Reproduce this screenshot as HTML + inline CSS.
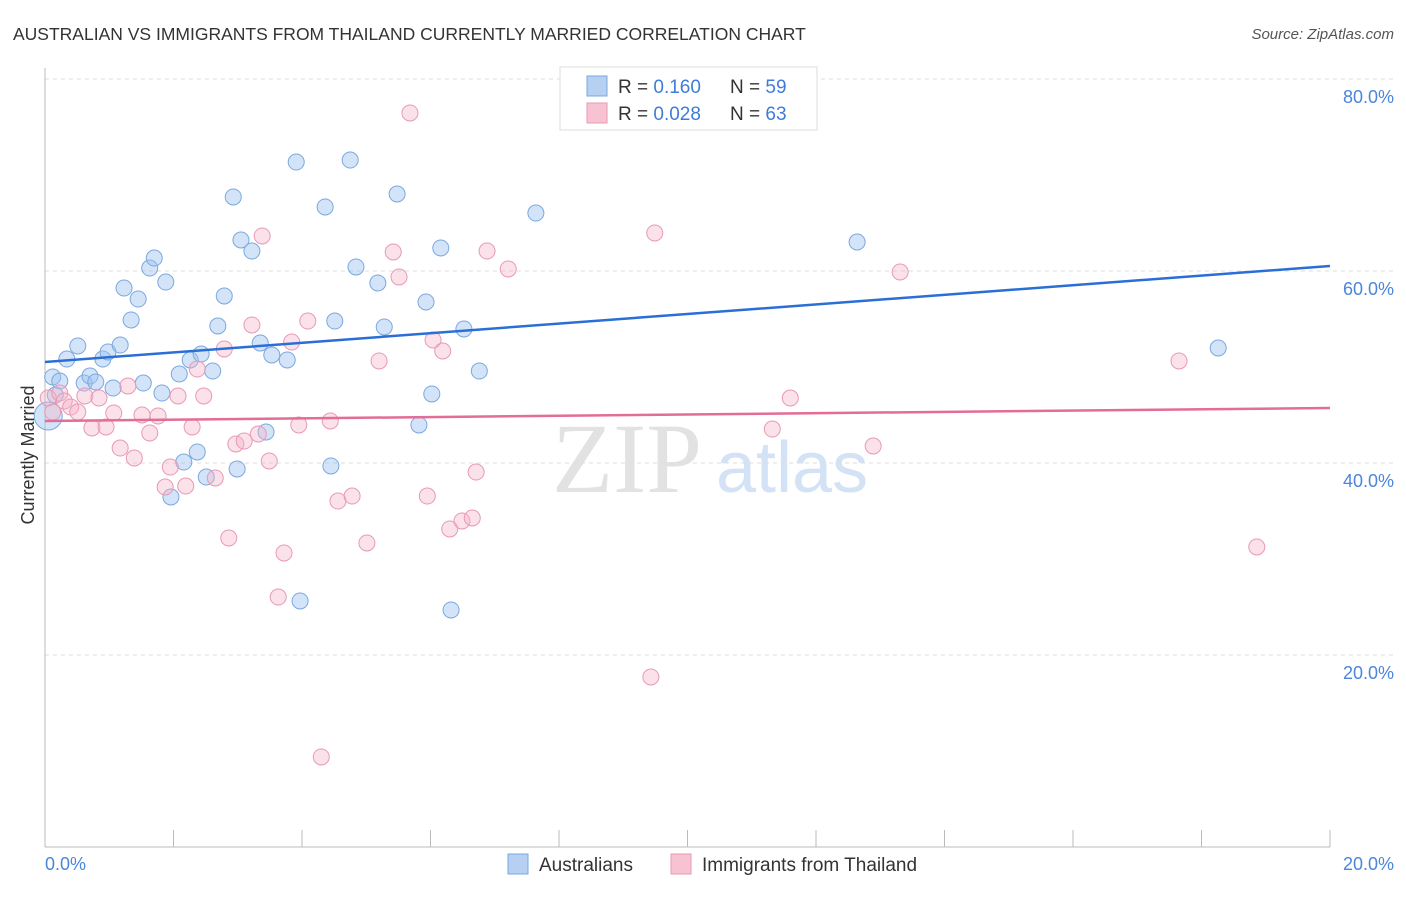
<!DOCTYPE html>
<html><head><meta charset="utf-8"><style>
body{margin:0;background:#fff;font-family:"Liberation Sans",sans-serif;}
</style></head><body>
<svg id="chart" width="1406" height="892" xmlns="http://www.w3.org/2000/svg">
<text x="13" y="40" font-size="17.5" fill="#333">AUSTRALIAN VS IMMIGRANTS FROM THAILAND CURRENTLY MARRIED CORRELATION CHART</text>
<text x="1394" y="39" font-size="15" fill="#555" font-style="italic" text-anchor="end">Source: ZipAtlas.com</text>
<g>
<text x="552" y="492" font-size="100" font-family="Liberation Serif" fill="#e2e2e2">ZIP</text>
<text x="716" y="492" font-size="72" fill="#d3e2f5">atlas</text>
</g>
<g id="grid"></g><g id="axes"></g><g id="pts"></g><g id="lines"></g>
<text x="34" y="455" font-size="18" fill="#333" transform="rotate(-90 34 455)" text-anchor="middle">Currently Married</text>
<text x="45" y="870" font-size="18" fill="#4a86dc">0.0%</text>
<text x="1394" y="870" font-size="18" fill="#4a86dc" text-anchor="end">20.0%</text>
<g>
<rect x="560" y="67" width="257" height="63" fill="#fff" stroke="#ddd"/>
<rect x="587" y="76" width="20" height="20" fill="#b6d0f2" stroke="#7aa8e0"/>
<rect x="587" y="103" width="20" height="20" fill="#f7c3d3" stroke="#e89ab3"/>
<text x="618" y="93" font-size="19" fill="#333">R = <tspan fill="#3d7dd8">0.160</tspan><tspan x="730">N = </tspan><tspan fill="#3d7dd8">59</tspan></text>
<text x="618" y="120" font-size="19" fill="#333">R = <tspan fill="#3d7dd8">0.028</tspan><tspan x="730">N = </tspan><tspan fill="#3d7dd8">63</tspan></text>
</g>
<g>
<rect x="508" y="854" width="20" height="20" fill="#b6d0f2" stroke="#7aa8e0"/>
<text x="539" y="871" font-size="19" fill="#333">Australians</text>
<rect x="671" y="854" width="20" height="20" fill="#f7c3d3" stroke="#e89ab3"/>
<text x="702" y="871" font-size="19" fill="#333">Immigrants from Thailand</text>
</g>
</svg>
<script>
const yTicks=[20,40,60,80];
const blueX=[0.12,0.23,0.34,0.51,0.61,0.70,0.79,0.90,0.98,1.06,1.17,1.23,1.34,1.45,1.53,1.63,1.70,1.82,1.88,1.96,2.09,2.16,2.26,2.37,2.43,2.51,2.61,2.69,2.79,2.93,2.99,3.05,3.22,3.35,3.44,3.53,3.77,3.91,3.97,4.36,4.45,4.51,4.75,4.84,5.18,5.28,5.48,5.82,5.93,6.02,6.16,6.32,6.52,6.76,7.64,12.64,18.26,0.05,0.16];
const blueY=[48.96,48.54,50.83,52.19,48.33,49.06,48.44,50.83,51.56,47.81,52.29,58.23,54.90,57.08,48.33,60.31,61.35,47.29,58.85,36.46,49.27,40.10,50.73,41.15,51.35,38.54,49.58,54.27,57.40,67.71,39.38,63.23,62.08,52.50,43.23,51.25,50.73,71.35,25.63,66.67,39.69,54.79,71.56,60.42,58.75,54.17,68.02,43.96,56.77,47.19,62.40,24.69,53.96,49.58,66.04,63.02,51.98,44.90,47.08];
const pinkX=[0.05,0.12,0.23,0.30,0.40,0.51,0.62,0.73,0.84,0.95,1.07,1.17,1.29,1.39,1.51,1.63,1.76,1.87,1.95,2.07,2.19,2.29,2.37,2.47,2.65,2.79,2.86,2.97,3.10,3.22,3.32,3.38,3.49,3.63,3.72,3.84,3.95,4.09,4.30,4.44,4.56,4.78,5.01,5.20,5.42,5.51,5.68,5.95,6.04,6.19,6.30,6.49,6.65,6.71,6.88,7.21,9.43,9.49,11.32,11.60,12.89,13.31,17.65,18.86];
const pinkY=[46.77,45.31,47.29,46.46,45.83,45.31,46.98,43.65,46.77,43.75,45.21,41.56,48.02,40.52,45.00,43.13,44.90,37.50,39.58,46.98,37.60,43.75,49.79,46.98,38.44,51.88,32.19,41.98,42.29,54.38,43.02,63.65,40.21,26.04,30.63,52.60,43.96,54.79,9.38,44.38,36.04,36.56,31.67,50.63,61.98,59.38,76.46,36.56,52.81,51.67,33.13,33.96,34.27,39.06,62.08,60.21,17.71,63.96,43.54,46.77,41.77,59.90,50.63,31.25];
const blueTrend=[50.52,60.52];
const pinkTrend=[44.38,45.73];
const NS="http://www.w3.org/2000/svg";
const xs=v=>45+v/20*1285, ys=v=>847-v*9.6;
function mk(p,t,a){const e=document.createElementNS(NS,t);for(const k in a)e.setAttribute(k,a[k]);document.getElementById(p).appendChild(e);return e;}
yTicks.forEach(t=>{
 const l=mk('grid','line',{x1:45,x2:1394,y1:ys(t),y2:ys(t),stroke:'#ddd','stroke-dasharray':'4,4'});
 
 
 const tx=mk('grid','text',{x:1394,y:ys(t)+24,'font-size':18,fill:'#4a86dc','text-anchor':'end'});
 tx.textContent=t.toFixed(1)+'%';
 
 
});
mk('axes','line',{x1:45,x2:45,y1:68,y2:847,stroke:'#bbb'});
mk('axes','line',{x1:45,x2:1330,y1:847,y2:847,stroke:'#bbb'});
for(let i=0;i<=10;i++){const t=mk('axes','line',{x1:xs(i*2),x2:xs(i*2),y1:830,y2:847,stroke:'#bbb'});
 
 }
blueX.forEach((x,i)=>{const c=mk('pts','circle',{cx:xs(x),cy:ys(blueY[i]),r:(i==57?14:8),fill:'rgba(160,196,240,0.45)',stroke:'#7aa8e0','stroke-width':1});
 
 });
pinkX.forEach((x,i)=>{const c=mk('pts','circle',{cx:xs(x),cy:ys(pinkY[i]),r:8,fill:'rgba(245,180,200,0.4)',stroke:'#e89ab3','stroke-width':1});
 
 });
const bl=mk('lines','line',{x1:xs(0),x2:xs(20),y1:ys(blueTrend[0]),y2:ys(blueTrend[1]),stroke:'#2a6fd6','stroke-width':2.5});


const pl=mk('lines','line',{x1:xs(0),x2:xs(20),y1:ys(pinkTrend[0]),y2:ys(pinkTrend[1]),stroke:'#e36c98','stroke-width':2.5});


</script>
</body></html>
